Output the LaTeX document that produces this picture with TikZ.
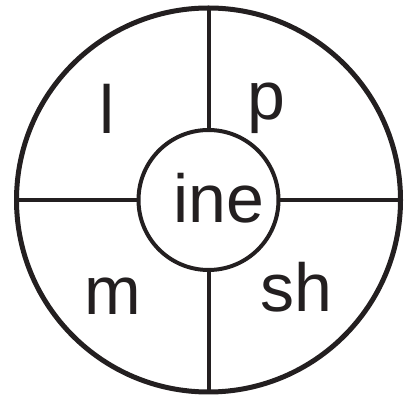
\documentclass[tikz,border=0pt]{standalone}
\usepackage{fontspec}
\setmainfont{Liberation Sans}
\definecolor{ink}{HTML}{231F20}
\begin{document}
\begin{tikzpicture}[x=1pt,y=1pt,
  ring/.style={draw=ink,circle,inner sep=0pt,outer sep=0pt},
  divider/.style={draw=ink,line width=4pt},
  word/.style={text=ink,inner sep=0pt,anchor=base,font=\fontsize{68}{68}\selectfont}]
\useasboundingbox (0,0) rectangle (409,398);
\node[ring,line width=5pt,minimum size=384pt] (outer) at (208.5,198) {};
\node[ring,line width=4pt,minimum size=140pt] (inner) at (208.5,198) {};
\draw[divider] (inner.north) -- (outer.north);
\draw[divider] (inner.south) -- (outer.south);
\draw[divider] (inner.west) -- (outer.west);
\draw[divider] (inner.east) -- (outer.east);
\node[word] (ine) at (218.5,175) {ine};
\node[word] (l) at (107,264) {l};
\node[word] (p) at (266,278) {p};
\node[word] (m) at (112.5,83) {m};
\node[word] (sh) at (296.5,86) {sh};
\end{tikzpicture}
\end{document}
